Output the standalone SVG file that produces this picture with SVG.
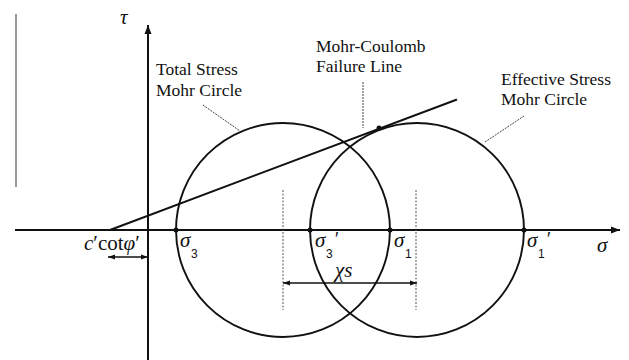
<svg xmlns="http://www.w3.org/2000/svg" width="629" height="360" viewBox="0 0 629 360">
<style>
.ax{stroke:#111;stroke-width:2;fill:none}
.cir{stroke:#111;stroke-width:1.9;fill:none}
.fl{stroke:#111;stroke-width:1.9;fill:none}
.lead{stroke:#444;stroke-width:1;stroke-dasharray:2 1;fill:none}
.dash{stroke:#555;stroke-width:1;stroke-dasharray:2 1.5;fill:none}
.dim{stroke:#111;stroke-width:1.6;fill:none}
.lbl{font-family:"Liberation Serif","Times New Roman",serif;font-size:17.5px;fill:#111}
.gk{font-family:"Liberation Serif","Times New Roman",serif;font-style:italic;font-size:21px;fill:#111}
.sub{font-family:"Liberation Sans",Arial,sans-serif;font-size:12px;fill:#111}
.pr{font-family:"Liberation Sans",Arial,sans-serif;font-size:18px;fill:#111}
.dot{fill:#111}
</style>
<defs>
<marker id="ah" markerUnits="userSpaceOnUse" markerWidth="10" markerHeight="8" refX="9" refY="4" orient="auto-start-reverse">
<path d="M0,0.5 L9,4 L0,7.5 Z" fill="#111"/>
</marker>
<marker id="ahs" markerUnits="userSpaceOnUse" markerWidth="8" markerHeight="6" refX="7" refY="3" orient="auto-start-reverse">
<path d="M0,0.5 L7,3 L0,5.5 Z" fill="#111"/>
</marker>
</defs>
<line x1="16" y1="14" x2="16" y2="187" stroke="#777" stroke-width="1.5"/>
<g id="sigma-axis">
<line class="ax" x1="15" y1="230" x2="620" y2="230" marker-end="url(#ah)"/>
<text class="gk" x="597" y="252">σ</text>
</g>
<g id="tau-axis">
<line class="ax" x1="148" y1="360" x2="148" y2="25" marker-end="url(#ah)"/>
<text class="gk" x="120" y="24">τ</text>
</g>
<g id="total-circle">
<circle class="cir" cx="283" cy="230" r="107"/>
</g>
<g id="effective-circle">
<circle class="cir" cx="417" cy="230" r="107"/>
</g>
<g id="failure-line">
<line class="fl" x1="110" y1="230" x2="457" y2="99.5"/>
<circle class="dot" cx="379" cy="128" r="2.5"/>
</g>
<g id="points">
<circle class="dot" cx="176" cy="230" r="2.5"/>
<circle class="dot" cx="310" cy="230" r="2.5"/>
<circle class="dot" cx="390" cy="230" r="2.5"/>
<circle class="dot" cx="524" cy="230" r="2.5"/>
</g>
<g id="label-s3">
<text class="gk" x="180" y="247">σ</text><text class="sub" x="191" y="258">3</text>
</g>
<g id="label-s3p">
<text class="gk" x="315" y="247">σ</text><text class="sub" x="326" y="258">3</text><text class="pr" x="335" y="245">′</text>
</g>
<g id="label-s1">
<text class="gk" x="394" y="247">σ</text><text class="sub" x="405" y="258">1</text>
</g>
<g id="label-s1p">
<text class="gk" x="527" y="247">σ</text><text class="sub" x="538" y="258">1</text><text class="pr" x="547" y="245">′</text>
</g>
<g id="label-total">
<text class="lbl" x="156" y="75">Total Stress</text>
<text class="lbl" x="156" y="96">Mohr Circle</text>
</g>
<g id="label-mc">
<text class="lbl" x="316" y="52">Mohr-Coulomb</text>
<text class="lbl" x="316" y="72">Failure Line</text>
</g>
<g id="label-eff">
<text class="lbl" x="501" y="85">Effective Stress</text>
<text class="lbl" x="501" y="105">Mohr Circle</text>
</g>
<g id="label-c">
<text class="gk" x="84" y="250" font-size="22">c<tspan font-style="normal">′cot</tspan>φ<tspan font-style="normal">′</tspan></text>
</g>
<g id="label-chis">
<text class="gk" x="335" y="277">χs</text>
</g>
<g id="connectors">
<line class="lead" x1="203" y1="105" x2="240" y2="131"/>
<line class="lead" x1="363" y1="82" x2="363" y2="128"/>
<line class="lead" x1="524" y1="116" x2="485" y2="142"/>
<line class="dash" x1="283" y1="190" x2="283" y2="310"/>
<line class="dash" x1="416" y1="190" x2="416" y2="310"/>
<line class="dim" x1="108" y1="257" x2="148" y2="257" marker-start="url(#ahs)" marker-end="url(#ahs)"/>
<line class="dim" x1="283" y1="283" x2="417" y2="283" marker-start="url(#ahs)" marker-end="url(#ahs)"/>
</g>
</svg>
